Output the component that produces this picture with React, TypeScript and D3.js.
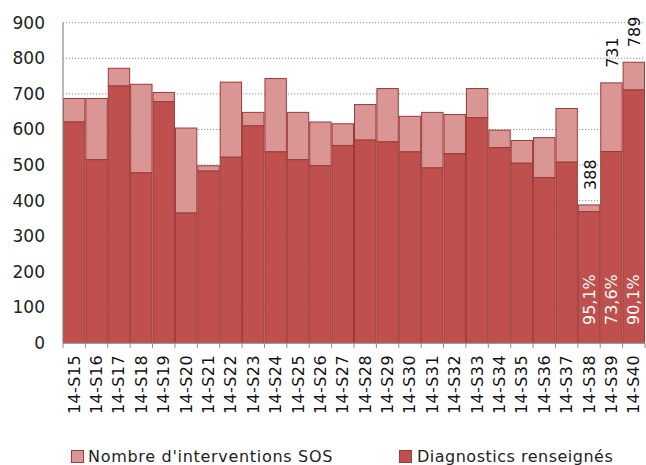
import React from 'react';
import * as d3 from 'd3';

// weekly values
const weeks = [
  '14-S15', '14-S16', '14-S17', '14-S18', '14-S19', '14-S20', '14-S21', '14-S22', '14-S23',
  '14-S24', '14-S25', '14-S26', '14-S27', '14-S28', '14-S29', '14-S30', '14-S31', '14-S32',
  '14-S33', '14-S34', '14-S35', '14-S36', '14-S37', '14-S38', '14-S39', '14-S40',
];
const interventions = [
  687, 687, 772, 727, 704, 604, 498, 733, 648, 743, 648, 621, 616,
  670, 715, 637, 648, 642, 715, 598, 569, 577, 659, 388, 731, 789,
];
const diagnostics = [
  621, 515, 722, 478, 678, 365, 483, 522, 610, 537, 515, 498, 555,
  570, 565, 537, 492, 532, 633, 549, 505, 465, 508, 369, 538, 711,
];
// labels shown on the last weeks only
const labelledWeeks = ['14-S38', '14-S39', '14-S40'];
const percentLabels = ['95,1%', '73,6%', '90,1%'];
const yTicks = [0, 100, 200, 300, 400, 500, 600, 700, 800, 900];

const width = 646;
const height = 465;
const margin = { top: 22.7, right: 1, bottom: 122, left: 63 };
const font = '"DejaVu Sans", Verdana, sans-serif';

const lightFill = '#d99694';
const darkFill = '#c0504d';
const barStroke = '#9c3a38';

export default function App() {
  const x = d3.scaleBand<string>()
    .domain(weeks)
    .range([margin.left, width - margin.right])
    .padding(0);

  const y = d3.scaleLinear()
    .domain([0, 900])
    .range([height - margin.bottom, margin.top]);

  const bw = x.bandwidth();
  const base = y(0);

  return (
    <svg width={width} height={height} style={{ position: 'absolute', left: 0, top: 0, background: '#fff' }}>
      {/* grid */}
      {yTicks.filter(t => t > 0).map(t => (
        <line key={t} x1={margin.left} x2={width - margin.right} y1={y(t)} y2={y(t)}
          stroke="#8a8a8a" strokeDasharray="1.2,1.8" strokeWidth={1} />
      ))}

      {/* bars */}
      {weeks.map((w, i) => (
        <g key={w}>
          <rect x={x(w)! + 0.5} y={y(interventions[i])} width={bw - 1}
            height={y(diagnostics[i]) - y(interventions[i])}
            fill={lightFill} stroke={barStroke} strokeWidth={1} />
          <rect x={x(w)! + 0.5} y={y(diagnostics[i])} width={bw - 1}
            height={base - y(diagnostics[i])}
            fill={darkFill} stroke={barStroke} strokeWidth={1} />
        </g>
      ))}

      {/* axes */}
      <line x1={margin.left} x2={margin.left} y1={margin.top} y2={base} stroke="#8c8c8c" strokeWidth={1.2} />
      <line x1={margin.left} x2={width - margin.right} y1={base} y2={base} stroke="#8c8c8c" strokeWidth={1.2} />
      {weeks.map(w => (
        <line key={'t' + w} x1={x(w)!} x2={x(w)!} y1={base} y2={base + 5} stroke="#8c8c8c" />
      ))}
      <line x1={width - margin.right} x2={width - margin.right} y1={base} y2={base + 5} stroke="#8c8c8c" />

      {yTicks.map(t => (
        <text key={'y' + t} x={45} y={y(t)} textAnchor="end" dominantBaseline="central"
          fontFamily={font} fontSize={17} fill="#222">{t}</text>
      ))}

      {weeks.map(w => {
        const cx = x(w)! + bw / 2;
        return (
          <text key={'x' + w} transform={`translate(${cx},${base + 12}) rotate(-90)`}
            textAnchor="end" dominantBaseline="central" letterSpacing={0.4}
            fontFamily={font} fontSize={16} fill="#111">{w}</text>
        );
      })}

      {/* totals above the last bars, shares inside */}
      {labelledWeeks.map((w, k) => {
        const i = weeks.indexOf(w);
        const cx = x(w)! + bw / 2;
        return (
          <g key={'l' + w}>
            <text transform={`translate(${cx + 1},${y(interventions[i]) - 15}) rotate(-90)`}
              textAnchor="start" dominantBaseline="central"
              fontFamily={font} fontSize={16} fill="#111">{interventions[i]}</text>
            <text transform={`translate(${cx},${base - 18}) rotate(-90)`}
              textAnchor="start" dominantBaseline="central"
              fontFamily={font} fontSize={16} fill="#fff">{percentLabels[k]}</text>
          </g>
        );
      })}

      {/* legend */}
      <rect x={71.5} y={450.5} width={12} height={12} fill={lightFill} stroke={barStroke} />
      <text x={88} y={462} fontFamily={font} fontSize={16} fill="#222" letterSpacing={0.7}>Nombre d'interventions SOS</text>
      <rect x={399.5} y={450.5} width={12} height={12} fill={darkFill} stroke={barStroke} />
      <text x={417} y={462} fontFamily={font} fontSize={16} fill="#222" letterSpacing={0.5}>Diagnostics renseignés</text>
    </svg>
  );
}
